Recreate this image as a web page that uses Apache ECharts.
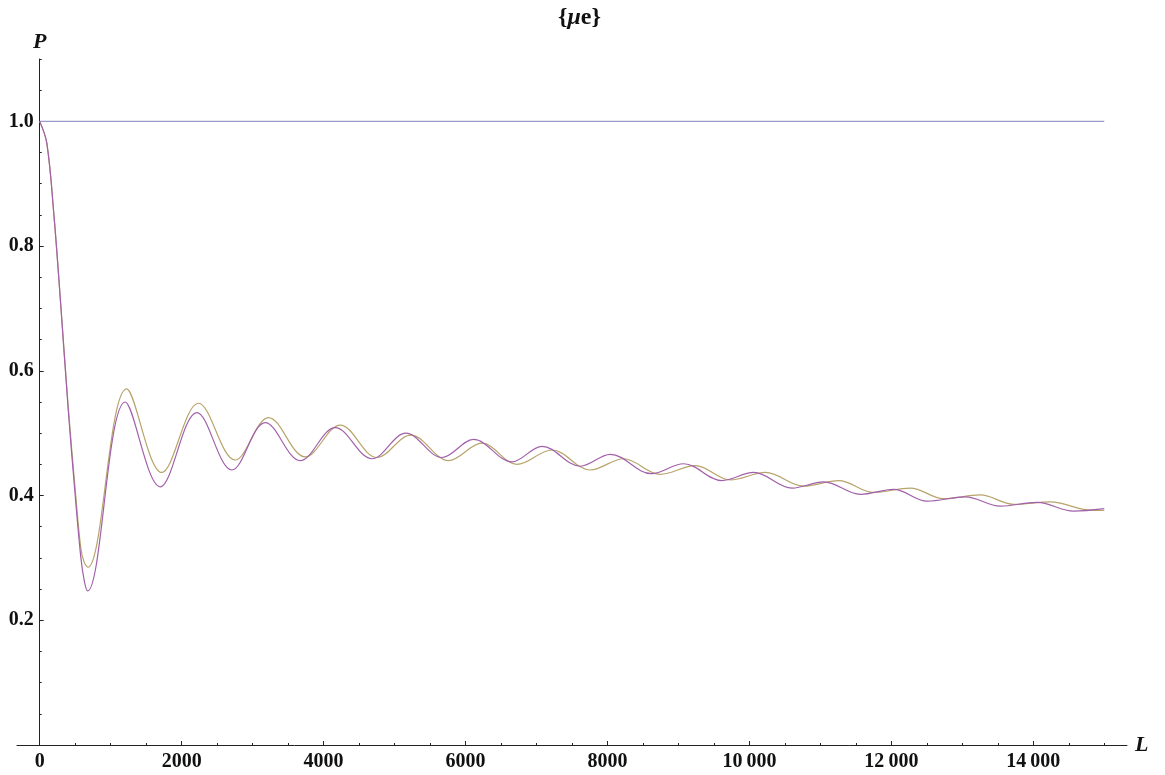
<!DOCTYPE html>
<html>
<head>
<meta charset="utf-8">
<title>{μe}</title>
<script src="https://cdn.jsdelivr.net/npm/echarts@6/dist/echarts.min.js"></script>
<style>
    html, body {
        margin: 0;
        padding: 0;
        background: #fff;
    }
    #chart {
        width: 1165px;
        height: 775px;
    }
</style>
</head>
<body>
<div id="chart"></div>
<script>
// 数据（从图上读取的极值点）
const purpleL = [0, 100, 200, 300, 400, 500, 580, 630, 674, 1205, 1698, 2215, 2708, 3178, 3671, 4164, 4681, 5160, 5668, 6114, 6654, 7077, 7617, 8040, 8620, 9073, 9613, 10060, 10600, 11046, 11563, 12032, 12502, 13043, 13536, 14053, 14569, 15000];
const purpleP = [1.0, 0.965, 0.85, 0.70, 0.54, 0.40, 0.30, 0.262, 0.247, 0.550, 0.414, 0.533, 0.441, 0.517, 0.456, 0.509, 0.459, 0.500, 0.461, 0.490, 0.454, 0.479, 0.447, 0.466, 0.435, 0.451, 0.424, 0.437, 0.412, 0.422, 0.402, 0.410, 0.391, 0.398, 0.383, 0.389, 0.375, 0.379];

const goldL = [0, 100, 200, 300, 400, 500, 580, 630, 680, 1225, 1720, 2238, 2755, 3225, 3741, 4235, 4752, 5230, 5761, 6231, 6725, 7218, 7758, 8227, 8740, 9238, 9731, 10224, 10764, 11257, 11750, 12267, 12737, 13254, 13723, 14240, 14757, 15000];
const goldP = [1.0, 0.965, 0.85, 0.70, 0.545, 0.41, 0.315, 0.292, 0.285, 0.571, 0.437, 0.548, 0.457, 0.525, 0.462, 0.513, 0.461, 0.497, 0.456, 0.484, 0.450, 0.473, 0.441, 0.459, 0.434, 0.448, 0.425, 0.437, 0.415, 0.424, 0.405, 0.412, 0.395, 0.401, 0.386, 0.390, 0.377, 0.376];

const flatL = [0, 15000];
const flatP = [1.0, 1.0];

// 刻度
const xLabels = [0, 2000, 4000, 6000, 8000, 10000, 12000, 14000];
const xMinor = [];
for (let v = 0; v <= 15000; v += 500) xMinor.push(v);
const yLabels = [0.2, 0.4, 0.6, 0.8, 1.0];
const yMinor = [];
for (let i = 1; i <= 22; i++) yMinor.push(+(i * 0.05).toFixed(2));

const pairs = (xs, ys) => xs.map((x, i) => [x, ys[i]]);

const FONT = '"Liberation Serif", "DejaVu Serif", serif';
const labelStyle = {
    fontFamily: FONT,
    fontWeight: 'bold',
    fontSize: 20,
    color: '#111'
};

// x 轴范围比数据略宽，y 轴要放在 L = 0 处
const X_MIN = -320;
const X_MAX = 15320;
const GRID_LEFT = 17;
const GRID_WIDTH = 1110;
const Y_OFFSET = -(0 - X_MIN) / (X_MAX - X_MIN) * GRID_WIDTH;

const chartInstance = echarts.init(document.getElementById('chart'));

const options = {
    animation: false,
    backgroundColor: '#fff',
    title: {
        text: '{b|{}{i|μ}{b|e}}',
        left: 553,
        top: 1,
        textStyle: {
            fontFamily: FONT,
            fontWeight: 'bold',
            fontSize: 24,
            color: '#111',
            rich: {
                b: {
                    fontFamily: FONT,
                    fontWeight: 'bold',
                    fontSize: 24,
                    color: '#111'
                },
                i: {
                    fontFamily: FONT,
                    fontWeight: 'bold',
                    fontStyle: 'italic',
                    fontSize: 24,
                    color: '#111'
                }
            }
        }
    },
    grid: {
        left: GRID_LEFT,
        top: 59,
        width: GRID_WIDTH,
        height: 686,
        outerBoundsMode: 'none',
        containLabel: false
    },
    xAxis: [
        {
            type: 'value',
            min: X_MIN,
            max: X_MAX,
            name: 'L',
            nameLocation: 'end',
            nameGap: 8,
            nameTextStyle: {
                fontFamily: FONT,
                fontWeight: 'bold',
                fontStyle: 'italic',
                fontSize: 22,
                color: '#111'
            },
            splitLine: { show: false },
            axisLine: { onZero: false, lineStyle: { color: '#222', width: 1 } },
            axisTick: { inside: true, length: 4, customValues: xLabels, lineStyle: { color: '#222' } },
            axisLabel: {
                ...labelStyle,
                margin: 7,
                customValues: xLabels,
                formatter: v => v >= 10000 ? String(v).replace(/(\d)(?=(\d{3})$)/, '$1\u2009') : String(v)
            }
        },
        {
            // 次刻度
            type: 'value',
            position: 'bottom',
            min: X_MIN,
            max: X_MAX,
            splitLine: { show: false },
            axisLine: { show: false, onZero: false },
            axisTick: { inside: true, length: 2, customValues: xMinor, lineStyle: { color: '#222' } },
            axisLabel: { show: false }
        }
    ],
    yAxis: [
        {
            type: 'value',
            min: 0,
            max: 1.1,
            position: 'left',
            offset: Y_OFFSET,
            name: 'P',
            nameLocation: 'end',
            nameGap: 6,
            nameTextStyle: {
                fontFamily: FONT,
                fontWeight: 'bold',
                fontStyle: 'italic',
                fontSize: 22,
                color: '#111',
                align: 'center'
            },
            splitLine: { show: false },
            axisLine: { onZero: false, lineStyle: { color: '#222', width: 1 } },
            axisTick: { inside: true, length: 4, customValues: yLabels, lineStyle: { color: '#222' } },
            axisLabel: {
                ...labelStyle,
                margin: 6,
                customValues: yLabels,
                formatter: v => v.toFixed(1)
            }
        },
        {
            type: 'value',
            position: 'left',
            offset: Y_OFFSET,
            min: 0,
            max: 1.1,
            splitLine: { show: false },
            axisLine: { show: false, onZero: false },
            axisTick: { inside: true, length: 2, customValues: yMinor, lineStyle: { color: '#222' } },
            axisLabel: { show: false }
        }
    ],
    series: [
        {
            name: 'flat',
            type: 'line',
            showSymbol: false,
            data: pairs(flatL, flatP),
            lineStyle: { color: '#9a9acc', width: 1.3 }
        },
        {
            name: 'gold',
            type: 'line',
            showSymbol: false,
            smooth: 0.36,
            data: pairs(goldL, goldP),
            lineStyle: { color: '#b7a46a', width: 1.2 }
        },
        {
            name: 'purple',
            type: 'line',
            showSymbol: false,
            smooth: 0.36,
            data: pairs(purpleL, purpleP),
            lineStyle: { color: '#a260aa', width: 1.2 }
        }
    ]
};

chartInstance.setOption(options);
</script>
</body>
</html>
